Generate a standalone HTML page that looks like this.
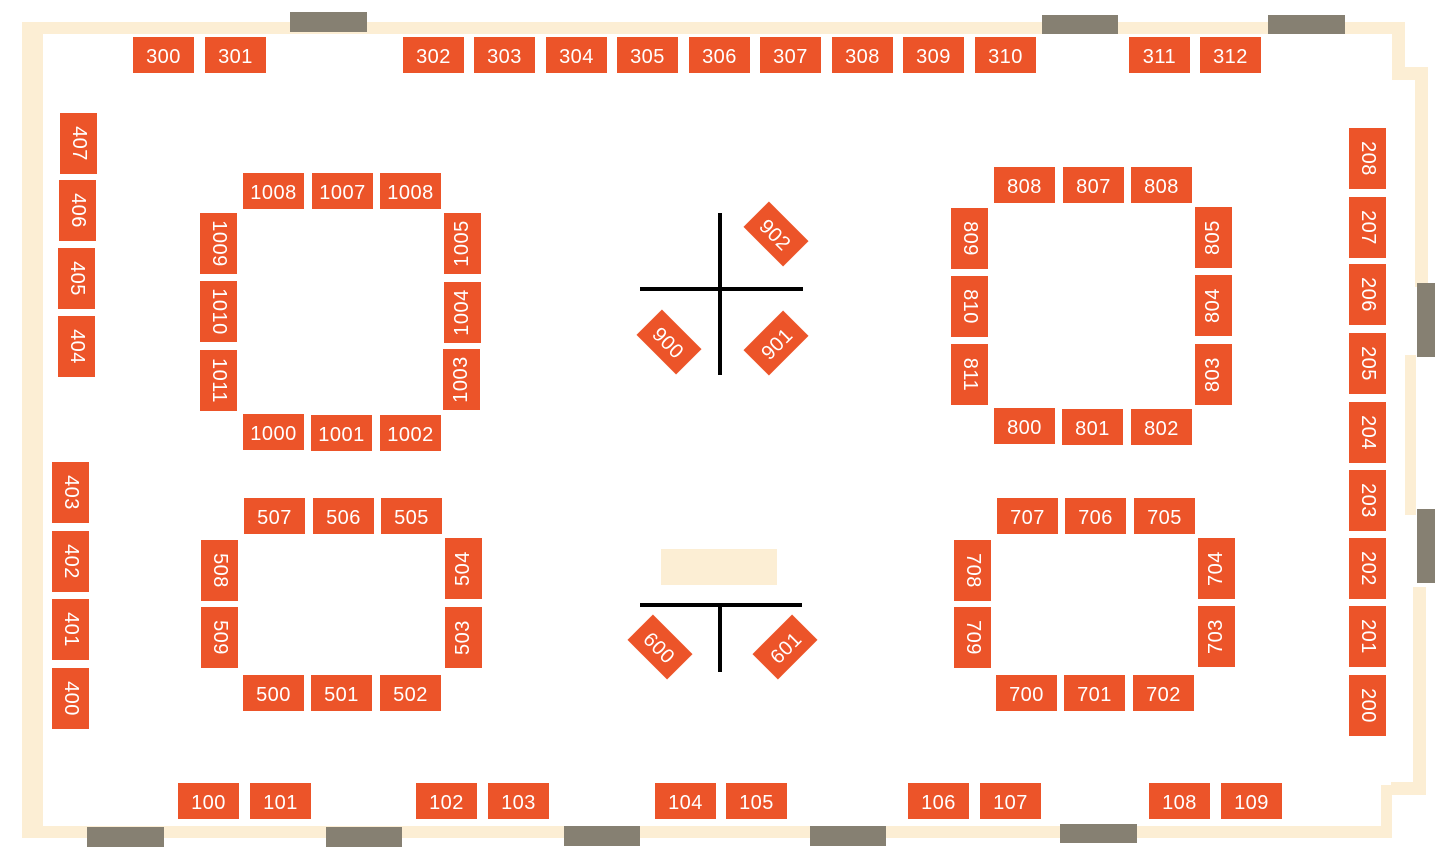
<!DOCTYPE html>
<html><head><meta charset="utf-8"><style>
body{margin:0;width:1455px;height:860px;background:#fff;position:relative;overflow:hidden}
div{position:absolute;box-sizing:border-box}
.w{background:#FCEED4}
.d{background:#868072}
.k{background:#000}
.b{background:#EC5429;color:#fff;display:flex;align-items:center;justify-content:center;font-family:"Liberation Sans",sans-serif;font-size:20px;letter-spacing:0.5px;width:61px;height:36px;padding-top:4px}
.v{width:37px;height:61px;padding-top:0}
.b span{display:block;white-space:nowrap}
.r span{transform:rotate(90deg)}
.l span{transform:rotate(-90deg)}
.dg{width:56px;height:36px}
</style></head><body>
<div class="w" style="left:22px;top:22px;width:1383px;height:12px"></div>
<div class="w" style="left:22px;top:22px;width:21px;height:816px"></div>
<div class="w" style="left:22px;top:826px;width:1370px;height:12px"></div>
<div class="w" style="left:1392px;top:23px;width:13px;height:57px"></div>
<div class="w" style="left:1392px;top:67px;width:36px;height:13px"></div>
<div class="w" style="left:1415px;top:67px;width:13px;height:220px"></div>
<div class="w" style="left:1405px;top:355px;width:11px;height:160px"></div>
<div class="w" style="left:1413px;top:587px;width:13px;height:208px"></div>
<div class="w" style="left:1391px;top:782px;width:35px;height:13px"></div>
<div class="w" style="left:1381px;top:785px;width:11px;height:53px"></div>
<div class="d" style="left:290px;top:12px;width:77px;height:20px"></div>
<div class="d" style="left:1042px;top:15px;width:76px;height:19px"></div>
<div class="d" style="left:1268px;top:15px;width:77px;height:19px"></div>
<div class="d" style="left:1417px;top:283px;width:18px;height:74px"></div>
<div class="d" style="left:1417px;top:509px;width:18px;height:74px"></div>
<div class="d" style="left:87px;top:827px;width:77px;height:20px"></div>
<div class="d" style="left:326px;top:827px;width:76px;height:20px"></div>
<div class="d" style="left:564px;top:826px;width:76px;height:20px"></div>
<div class="d" style="left:810px;top:826px;width:76px;height:20px"></div>
<div class="d" style="left:1060px;top:824px;width:77px;height:19px"></div>
<div class="k" style="left:718px;top:213px;width:4px;height:162px"></div>
<div class="k" style="left:640px;top:287px;width:163px;height:4px"></div>
<div class="k" style="left:640px;top:603px;width:162px;height:4px"></div>
<div class="k" style="left:718px;top:603px;width:4px;height:69px"></div>
<div class="w" style="left:661px;top:549px;width:116px;height:36px"></div>
<div class="b" style="left:133px;top:37px"><span>300</span></div>
<div class="b" style="left:205px;top:37px"><span>301</span></div>
<div class="b" style="left:403px;top:37px"><span>302</span></div>
<div class="b" style="left:474px;top:37px"><span>303</span></div>
<div class="b" style="left:546px;top:37px"><span>304</span></div>
<div class="b" style="left:617px;top:37px"><span>305</span></div>
<div class="b" style="left:689px;top:37px"><span>306</span></div>
<div class="b" style="left:760px;top:37px"><span>307</span></div>
<div class="b" style="left:832px;top:37px"><span>308</span></div>
<div class="b" style="left:903px;top:37px"><span>309</span></div>
<div class="b" style="left:975px;top:37px"><span>310</span></div>
<div class="b" style="left:1129px;top:37px"><span>311</span></div>
<div class="b" style="left:1200px;top:37px"><span>312</span></div>
<div class="b v r" style="left:60px;top:113px"><span>407</span></div>
<div class="b v r" style="left:59px;top:180px"><span>406</span></div>
<div class="b v r" style="left:58px;top:248px"><span>405</span></div>
<div class="b v r" style="left:58px;top:316px"><span>404</span></div>
<div class="b v r" style="left:52px;top:462px"><span>403</span></div>
<div class="b v r" style="left:52px;top:531px"><span>402</span></div>
<div class="b v r" style="left:52px;top:599px"><span>401</span></div>
<div class="b v r" style="left:52px;top:668px"><span>400</span></div>
<div class="b v r" style="left:1349px;top:128px"><span>208</span></div>
<div class="b v r" style="left:1349px;top:197px"><span>207</span></div>
<div class="b v r" style="left:1349px;top:264px"><span>206</span></div>
<div class="b v r" style="left:1349px;top:333px"><span>205</span></div>
<div class="b v r" style="left:1349px;top:402px"><span>204</span></div>
<div class="b v r" style="left:1349px;top:470px"><span>203</span></div>
<div class="b v r" style="left:1349px;top:538px"><span>202</span></div>
<div class="b v r" style="left:1349px;top:606px"><span>201</span></div>
<div class="b v r" style="left:1349px;top:675px"><span>200</span></div>
<div class="b" style="left:178px;top:783px"><span>100</span></div>
<div class="b" style="left:250px;top:783px"><span>101</span></div>
<div class="b" style="left:416px;top:783px"><span>102</span></div>
<div class="b" style="left:488px;top:783px"><span>103</span></div>
<div class="b" style="left:655px;top:783px"><span>104</span></div>
<div class="b" style="left:726px;top:783px"><span>105</span></div>
<div class="b" style="left:908px;top:783px"><span>106</span></div>
<div class="b" style="left:980px;top:783px"><span>107</span></div>
<div class="b" style="left:1149px;top:783px"><span>108</span></div>
<div class="b" style="left:1221px;top:783px"><span>109</span></div>
<div class="b" style="left:243px;top:173px"><span>1008</span></div>
<div class="b" style="left:312px;top:173px"><span>1007</span></div>
<div class="b" style="left:380px;top:173px"><span>1008</span></div>
<div class="b v r" style="left:200px;top:213px"><span>1009</span></div>
<div class="b v r" style="left:200px;top:281px"><span>1010</span></div>
<div class="b v r" style="left:200px;top:350px"><span>1011</span></div>
<div class="b v l" style="left:444px;top:213px"><span>1005</span></div>
<div class="b v l" style="left:444px;top:282px"><span>1004</span></div>
<div class="b v l" style="left:443px;top:349px"><span>1003</span></div>
<div class="b" style="left:243px;top:414px"><span>1000</span></div>
<div class="b" style="left:311px;top:415px"><span>1001</span></div>
<div class="b" style="left:380px;top:415px"><span>1002</span></div>
<div class="b" style="left:994px;top:167px"><span>808</span></div>
<div class="b" style="left:1063px;top:167px"><span>807</span></div>
<div class="b" style="left:1131px;top:167px"><span>808</span></div>
<div class="b v r" style="left:951px;top:208px"><span>809</span></div>
<div class="b v r" style="left:951px;top:276px"><span>810</span></div>
<div class="b v r" style="left:951px;top:344px"><span>811</span></div>
<div class="b v l" style="left:1195px;top:207px"><span>805</span></div>
<div class="b v l" style="left:1195px;top:275px"><span>804</span></div>
<div class="b v l" style="left:1195px;top:344px"><span>803</span></div>
<div class="b" style="left:994px;top:408px"><span>800</span></div>
<div class="b" style="left:1062px;top:409px"><span>801</span></div>
<div class="b" style="left:1131px;top:409px"><span>802</span></div>
<div class="b" style="left:244px;top:498px"><span>507</span></div>
<div class="b" style="left:313px;top:498px"><span>506</span></div>
<div class="b" style="left:381px;top:498px"><span>505</span></div>
<div class="b v r" style="left:201px;top:540px"><span>508</span></div>
<div class="b v r" style="left:201px;top:607px"><span>509</span></div>
<div class="b v l" style="left:445px;top:538px"><span>504</span></div>
<div class="b v l" style="left:445px;top:607px"><span>503</span></div>
<div class="b" style="left:243px;top:675px"><span>500</span></div>
<div class="b" style="left:311px;top:675px"><span>501</span></div>
<div class="b" style="left:380px;top:675px"><span>502</span></div>
<div class="b" style="left:997px;top:498px"><span>707</span></div>
<div class="b" style="left:1065px;top:498px"><span>706</span></div>
<div class="b" style="left:1134px;top:498px"><span>705</span></div>
<div class="b v r" style="left:954px;top:540px"><span>708</span></div>
<div class="b v r" style="left:954px;top:607px"><span>709</span></div>
<div class="b v l" style="left:1198px;top:538px"><span>704</span></div>
<div class="b v l" style="left:1198px;top:606px"><span>703</span></div>
<div class="b" style="left:996px;top:675px"><span>700</span></div>
<div class="b" style="left:1064px;top:675px"><span>701</span></div>
<div class="b" style="left:1133px;top:675px"><span>702</span></div>
<div class="b dg" style="left:748px;top:216px;transform:rotate(45deg)"><span>902</span></div>
<div class="b dg" style="left:641px;top:324px;transform:rotate(45deg)"><span>900</span></div>
<div class="b dg" style="left:748px;top:325px;transform:rotate(-45deg)"><span>901</span></div>
<div class="b dg" style="left:632px;top:629px;transform:rotate(45deg)"><span>600</span></div>
<div class="b dg" style="left:757px;top:629px;transform:rotate(-45deg)"><span>601</span></div>
</body></html>
